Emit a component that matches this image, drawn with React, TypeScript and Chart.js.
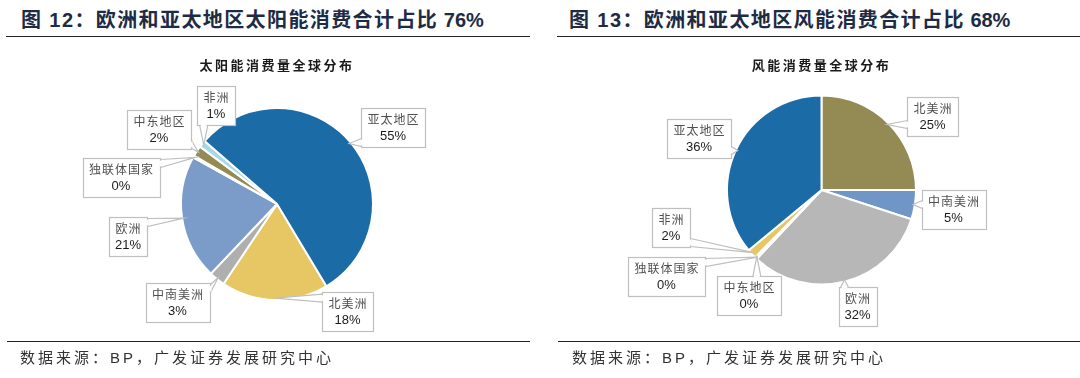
import React, { useEffect, useRef } from "react";
import { Chart, registerables } from "chart.js";

Chart.register(...registerables);

// ---------- data ----------
const regions = ["北美洲", "中南美洲", "欧洲", "独联体国家", "中东地区", "非洲", "亚太地区"];
const solarShares = [18, 2.7, 21, 0.3, 1.8, 1.2, 55];
const solarLabels = ["18%", "3%", "21%", "0%", "2%", "1%", "55%"];
const windShares = [25, 5, 32, 0.2, 0.2, 1.6, 36];
const windLabels = ["25%", "5%", "32%", "0%", "0%", "2%", "36%"];

const solarFigTitle = "图 12：欧洲和亚太地区太阳能消费合计占比";
const solarFigValue = "76%";
const windFigTitle = "图 13：欧洲和亚太地区风能消费合计占比";
const windFigValue = "68%";
const solarChartTitle = "太阳能消费量全球分布";
const windChartTitle = "风能消费量全球分布";
const sourceText = "数据来源：BP，广发证券发展研究中心";

// ---------- styles ----------
const solarColors = ["#E6C763", "#AFAFAF", "#7B9CC9", "#DCE4EE", "#948A54", "#A8D8E8", "#1B6BA6"];
const windColors = ["#948A54", "#7096C8", "#B7B7B7", "#DCE4EE", "#DCE4EE", "#E6C763", "#1B6BA6"];

// callout box centre offsets relative to the pie centre (px)
const solarBoxOffsets: [number, number][] = [
  [70.5, 107], [-99.5, 98.5], [-149, 32.5], [-156, -26.5], [-118, -75], [-61, -99], [116, -76.5],
];
const windBoxOffsets: [number, number][] = [
  [111, -73.5], [132, 19], [36, 116], [-155, 86], [-72.5, 105], [-150.5, 37.5], [-122.5, -52],
];

const PANEL_W = 540;
const PANEL_H = 378;
const CJK = "'Noto Sans CJK SC', sans-serif";
const MIXED = "'Liberation Sans', 'Noto Sans CJK SC', sans-serif";

type Panel = {
  left: number;
  figTitle: string;
  figValue: string;
  chartTitle: string;
  titleX: number;
  ruleX: number;
  ruleW: number;
  footX: number;
  cx: number;
  cy: number;
  r: number;
  rotation: number;
  shares: number[];
  labels: string[];
  colors: string[];
  offsets: [number, number][];
};

const panels: Panel[] = [
  {
    left: 0, figTitle: solarFigTitle, figValue: solarFigValue, chartTitle: solarChartTitle,
    titleX: 21, ruleX: 6, ruleW: 524, footX: 20,
    cx: 277, cy: 204, r: 96, rotation: 149, shares: solarShares, labels: solarLabels, colors: solarColors,
    offsets: solarBoxOffsets,
  },
  {
    left: 540, figTitle: windFigTitle, figValue: windFigValue, chartTitle: windChartTitle,
    titleX: 29, ruleX: 17, ruleW: 523, footX: 32,
    cx: 281.5, cy: 190, r: 94.5, rotation: 0, shares: windShares, labels: windLabels, colors: windColors,
    offsets: windBoxOffsets,
  },
];

const clamp = (v: number, a: number, b: number) => Math.max(a, Math.min(b, v));

function PiePanel({ p }: { p: Panel }) {
  const ref = useRef<HTMLCanvasElement>(null);

  useEffect(() => {
    if (!ref.current) return;
    const callouts = {
      id: "callouts",
      afterDatasetsDraw(chart: any) {
        const ctx: CanvasRenderingContext2D = chart.ctx;
        const meta = chart.getDatasetMeta(0);
        ctx.save();
        meta.data.forEach((arc: any, i: number) => {
          const { x, y, startAngle, endAngle, outerRadius } = arc.getProps(
            ["x", "y", "startAngle", "endAngle", "outerRadius"], true);
          const mid = (startAngle + endAngle) / 2;
          const tip = { x: x + Math.cos(mid) * outerRadius * 0.98, y: y + Math.sin(mid) * outerRadius * 0.98 };
          const name = regions[i];
          const pct = p.labels[i];
          const nameFont = `12px ${CJK}`;
          const pctFont = `13px 'Liberation Sans', Arial, sans-serif`;
          ctx.font = nameFont;
          (ctx as any).letterSpacing = "1px";
          const w1 = ctx.measureText(name).width;
          ctx.font = pctFont;
          (ctx as any).letterSpacing = "0px";
          const w2 = ctx.measureText(pct).width;
          const w = Math.round(Math.max(w1, w2) + 12);
          const h = 39;
          const bx = x + p.offsets[i][0];
          const by = y + p.offsets[i][1];
          const L = Math.round(bx - w / 2) + 0.5;
          const T = Math.round(by - h / 2) + 0.5;
          const R = L + w;
          const B = T + h;
          const nx = clamp(tip.x, L, R);
          const ny = clamp(tip.y, T, B);
          const ddx = Math.abs(tip.x - nx);
          const ddy = Math.abs(tip.y - ny);
          const s = 4;
          let b1, b2;
          if (ddx >= ddy) {
            const ex = tip.x < L ? L : R;
            const c0 = clamp(ny, T + s + 1, B - s - 1);
            b1 = { x: ex, y: c0 - s };
            b2 = { x: ex, y: c0 + s };
          } else {
            const ey = tip.y < T ? T : B;
            const c0 = clamp(nx, L + s + 1, R - s - 1);
            b1 = { x: c0 - s, y: ey };
            b2 = { x: c0 + s, y: ey };
          }
          ctx.lineWidth = 1.2;
          ctx.strokeStyle = "#BFBFBF";
          ctx.fillStyle = "#FFFFFF";
          ctx.beginPath();
          ctx.moveTo(b1.x, b1.y);
          ctx.lineTo(tip.x, tip.y);
          ctx.lineTo(b2.x, b2.y);
          ctx.closePath();
          ctx.fill();
          ctx.stroke();
          ctx.fillRect(L, T, w, h);
          ctx.strokeRect(L, T, w, h);
          // open the box edge where the pointer joins
          ctx.beginPath();
          const ux = (b2.x - b1.x) / (2 * s);
          const uy = (b2.y - b1.y) / (2 * s);
          ctx.moveTo(b1.x + ux * 1.2, b1.y + uy * 1.2);
          ctx.lineTo(b2.x - ux * 1.2, b2.y - uy * 1.2);
          ctx.strokeStyle = "#FFFFFF";
          ctx.lineWidth = 2;
          ctx.stroke();
          // texts
          ctx.textAlign = "center";
          ctx.textBaseline = "middle";
          ctx.font = nameFont;
          (ctx as any).letterSpacing = "1px";
          ctx.fillStyle = "#505050";
          ctx.fillText(name, bx + 0.5, by - 8);
          ctx.font = pctFont;
          (ctx as any).letterSpacing = "0px";
          ctx.fillStyle = "#1A1A1A";
          ctx.fillText(pct, bx, by + 9);
        });
        ctx.restore();
      },
    };

    const chart = new Chart(ref.current, {
      type: "pie",
      data: {
        labels: regions,
        datasets: [
          {
            data: p.shares,
            backgroundColor: p.colors,
            borderColor: "#FFFFFF",
            borderWidth: 2,
          },
        ],
      },
      options: {
        responsive: false,
        animation: false,
        events: [],
        rotation: p.rotation,
        layout: {
          padding: {
            left: p.cx - p.r - 1,
            top: p.cy - p.r - 1,
            right: PANEL_W - (p.cx + p.r + 1),
            bottom: PANEL_H - (p.cy + p.r + 1),
          },
        },
        plugins: {
          legend: { display: false },
          tooltip: { enabled: false },
          title: { display: false },
        },
      },
      plugins: [callouts],
    } as any);
    return () => chart.destroy();
  }, [p]);

  return (
    <div style={{ position: "absolute", left: p.left, top: 0, width: PANEL_W, height: PANEL_H }}>
      <div
        style={{
          position: "absolute", left: p.titleX, top: 7, whiteSpace: "nowrap",
          fontFamily: MIXED, fontWeight: 700, fontSize: 20, lineHeight: "26px",
          letterSpacing: 1.4, color: "#1E2B45",
        }}
      >
        {p.figTitle}
        <span style={{ letterSpacing: 0 }}> {p.figValue}</span>
      </div>
      <div style={{ position: "absolute", left: p.ruleX, top: 36, width: p.ruleW, borderTop: "1.5px solid #222" }} />
      <canvas
        ref={ref}
        width={PANEL_W}
        height={PANEL_H}
        style={{ position: "absolute", left: 0, top: 0, width: PANEL_W, height: PANEL_H }}
      />
      <div
        style={{
          position: "absolute", left: p.cx - 150, width: 300, top: 56, textAlign: "center",
          fontFamily: CJK, fontWeight: 700, fontSize: 13, lineHeight: "18px", letterSpacing: 2.5,
          color: "#1A1A1A", whiteSpace: "nowrap",
        }}
      >
        {p.chartTitle}
      </div>
      <div style={{ position: "absolute", left: p.ruleX + 1, top: 341, width: p.ruleW - 1, borderTop: "1.5px solid #222" }} />
      <div
        style={{
          position: "absolute", left: p.footX, top: 348, whiteSpace: "nowrap",
          fontFamily: MIXED, fontSize: 15, lineHeight: "20px", letterSpacing: 3, color: "#333",
        }}
      >
        {sourceText}
      </div>
    </div>
  );
}

export default function App() {
  return (
    <div
      style={{
        position: "absolute", left: 0, top: 0, width: 1080, height: 378,
        background: "#FFFFFF", overflow: "hidden",
      }}
    >
      {panels.map((p, i) => (
        <PiePanel key={i} p={p} />
      ))}
    </div>
  );
}
